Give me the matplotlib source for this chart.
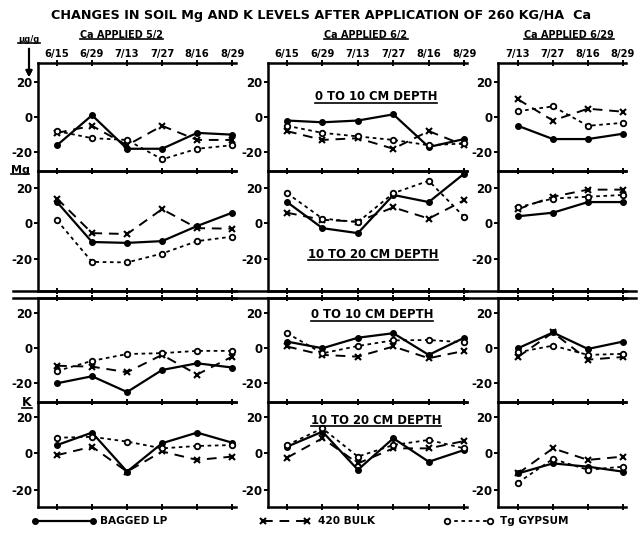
import matplotlib
matplotlib.use('Agg')
import matplotlib.pyplot as plt
from matplotlib.lines import Line2D

plt.rcParams['font.family'] = ['DejaVu Sans']
plt.rcParams['font.weight'] = 'bold'

# ---------------- data ----------------
dates_a = ['6/15', '6/29', '7/13', '7/27', '8/16', '8/29']
dates_c = ['7/13', '7/27', '8/16', '8/29']
col_titles = ['Ca APPLIED 5/2', 'Ca APPLIED 6/2', 'Ca APPLIED 6/29']
depth_labels = ['0 TO 10 CM DEPTH', '10 TO 20 CM DEPTH']
series_names = ['BAGGED LP', '420 BULK', 'Tg GYPSUM']
yticks = [20, 0, -20]

# Mg, 0-10 cm  (one list per application date)
mg_top_lp = [[-16, 1, -18, -18, -9, -10], [-2, -3, -2, 1.5, -17, -12.5], [-5, -12.5, -12.5, -9.5]]
mg_top_bulk = [[-9, -5, -16, -5, -13, -13], [-8, -13, -12, -18, -8, -16], [10, -2, 4.7, 3]]
mg_top_gyp = [[-8, -12, -13, -24, -18, -16], [-5, -9, -11, -13, -16, -15], [3.3, 6, -5, -3.3]]
# Mg, 10-20 cm
mg_bot_lp = [[12, -10.5, -11, -10, -1.5, 6], [12, -2.7, -5.5, 16, 12, 28], [4, 6, 12, 12]]
mg_bot_bulk = [[14, -5.5, -6, 8, -2.7, -3], [6, 2, 1, 9, 2.7, 13], [8, 15, 19, 19]]
mg_bot_gyp = [[1.7, -21.7, -22, -17, -10, -7.5], [17, 2.7, 0.7, 17, 24, 3.6], [9, 14, 15, 16]]
# K, 0-10 cm
k_top_lp = [[-20, -16, -25, -12.4, -8.6, -11], [3.8, 0, 6, 8.6, -3.8, 6], [0, 9, -0.4, 3.8]]
k_top_bulk = [[-10, -10.5, -13.7, -3.8, -15, -4.8], [1, -3.8, -4.8, 1, -5.7, -1.5], [-5, 9, -6.5, -5]]
k_top_gyp = [[-13, -7.2, -3.3, -2.8, -1.5, -1.5], [8.6, -2.9, 1.3, 4.5, 4.7, 3.4], [-2.3, 1.5, -3.8, -3.2]]
# K, 10-20 cm
k_bot_lp = [[4.5, 11.3, -10, 5.5, 11.3, 5.8], [3.6, 11.8, -9, 8.2, -4.6, 1.8], [-11, -5.5, -7.3, -10]]
k_bot_bulk = [[-1, 3.6, -10, 1, -3.6, -1.8], [-2.4, 8.2, -5.5, 2.7, 2.7, 6.7], [-11, 2.7, -3.6, -1.8]]
k_bot_gyp = [[8.5, 9, 6.4, 2.7, 4, 4.5], [4.5, 13.6, -1.8, 4.5, 7.3, 2.7], [-16, -3.1, -9, -7.3]]

rows_data = [
    (mg_top_lp, mg_top_bulk, mg_top_gyp),
    (mg_bot_lp, mg_bot_bulk, mg_bot_gyp),
    (k_top_lp, k_top_bulk, k_top_gyp),
    (k_bot_lp, k_bot_bulk, k_bot_gyp),
]
col_dates = [dates_a, dates_a, dates_c]

# ---------------- layout ----------------
W, H, DPI = 639, 533, 100
fig = plt.figure(figsize=(W / DPI, H / DPI), dpi=DPI)
fig.patch.set_facecolor('white')

def rect(x0, y0, x1, y1):
    return [x0 / W, 1 - y1 / H, (x1 - x0) / W, (y1 - y0) / H]

cols = [(38, 236, -0.543, 5.11), (268, 467, -0.537, 5.08), (498, 626, -0.571, 3.09)]
rows = [(63, 171, -30.6, 30.6), (171, 291, -38.1, 29.5), (298, 402, -30.7, 28.7), (402, 507, -29.3, 28.0)]

styles = [
    dict(color='black', lw=1.6, ls='-', marker='o', ms=4, mfc='black', mec='black'),
    dict(color='black', lw=1.4, ls=(0, (5, 3.5)), marker='x', ms=4.5, mew=1.5),
    dict(color='black', lw=1.3, ls=(0, (2, 2)), marker='o', ms=4, mfc='white', mec='black', mew=1.3),
]

axes = {}
for ri, (y0, y1, ylo, yhi) in enumerate(rows):
    for ci, (x0, x1, xlo, xhi) in enumerate(cols):
        ax = fig.add_axes(rect(x0, y0, x1, y1))
        ax.set_facecolor('none')
        ax.set_xlim(xlo, xhi)
        ax.set_ylim(ylo, yhi)
        ax.spines['right'].set_visible(False)
        for s in ['left', 'top', 'bottom']:
            ax.spines[s].set_linewidth(1.8)
        n = len(col_dates[ci])
        ax.set_xticks(range(n))
        if ri == 0:
            ax.set_xticklabels(col_dates[ci], fontsize=7.2, fontweight='bold')
            ax.tick_params(axis='x', top=True, bottom=True, labeltop=True, labelbottom=False,
                           direction='inout', length=5, width=1.4, pad=0.5)
        else:
            ax.set_xticklabels([])
            ax.tick_params(axis='x', top=True, bottom=True, direction='inout', length=5, width=1.4)
        ax.set_yticks(yticks)
        ax.set_yticklabels([str(t) for t in yticks], fontsize=8.5, fontweight='bold')
        ax.tick_params(axis='y', direction='out', length=3, width=1.4, pad=1)
        for si, series in enumerate(rows_data[ri]):
            ax.plot(range(n), series[ci], clip_on=False, **styles[si])
        axes[(ri, ci)] = ax

# double separator between Mg and K
for yy in (291, 298):
    fig.add_artist(Line2D([13 / W, 636 / W], [1 - yy / H, 1 - yy / H], color='black', lw=1.8))

# ---------------- text ----------------
underlines = []

def ftext(x, y, s, size, ha='center', underline=False):
    t = fig.text(x / W, 1 - y / H, s, fontsize=size, fontweight='bold', ha=ha, va='center')
    if underline:
        underlines.append(t)
    return t

ftext(321, 16, 'CHANGES IN SOIL Mg AND K LEVELS AFTER APPLICATION OF 260 KG/HA  Ca', 9.2)
ftext(121, 35, col_titles[0], 6.9, underline=True)
ftext(366, 35, col_titles[1], 6.9, underline=True)
ftext(569, 35, col_titles[2], 6.9, underline=True)
ftext(29, 39, 'µg/g', 6, underline=True)
ftext(20, 170, 'Mg', 8, underline=True)
ftext(27, 402, 'K', 9, underline=True)
ftext(376, 97, depth_labels[0], 8.4, underline=True)
ftext(373, 254, depth_labels[1], 8.4, underline=True)
ftext(372, 315, depth_labels[0], 8.4, underline=True)
ftext(376, 420, depth_labels[1], 8.4, underline=True)

# arrow under units
fig.add_artist(plt.annotate('', xy=(29 / W, 1 - 80 / H), xytext=(29 / W, 1 - 46 / H),
                            xycoords='figure fraction',
                            arrowprops=dict(arrowstyle='-|>', color='black', lw=1.5, mutation_scale=9)))

# legend
leg = [(35, 93, 100), (263, 307, 318), (447, 490, 500)]
for si, (lx0, lx1, tx) in enumerate(leg):
    st = dict(styles[si])
    fig.add_artist(Line2D([lx0 / W, lx1 / W], [1 - 521 / H, 1 - 521 / H], **st))
    ftext(tx, 521, series_names[si], 7.6, ha='left')

fig.canvas.draw()
r = fig.canvas.get_renderer()
for t in underlines:
    bb = t.get_window_extent(r)
    yb = bb.y0 + 1
    fig.add_artist(Line2D([bb.x0 / W, bb.x1 / W], [yb / H, yb / H], color='black', lw=1.2))

fig.savefig('out.png', dpi=DPI, facecolor='white')
